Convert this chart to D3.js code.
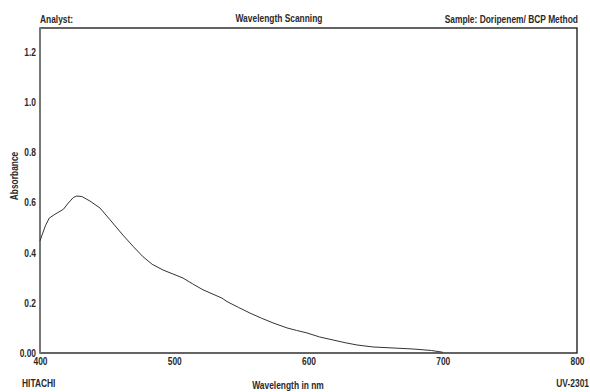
<!DOCTYPE html>
<html>
<head>
<meta charset="utf-8">
<script src="https://cdn.jsdelivr.net/npm/d3@7"></script>
<style>
  body { margin: 0; background: #fff; }
  text { font-family: "Liberation Sans", Arial, sans-serif; font-weight: bold; fill: #2a2a2a; }
</style>
</head>
<body>
<div class="C"></div>
<script>
// spectrum
var wavelength = [400, 401.3, 404, 406.9, 411.1, 417.4, 421.1, 424.8, 427.4, 431.2, 437.2, 444.7, 452.2, 461.8, 469.4, 476.7, 483.5, 491.6, 506.5, 513.6, 521.4, 535.5, 539.3, 547.8, 556.5, 564.9, 573.6, 584, 591.1, 598.9, 608.2, 618.2, 627.3, 636.1, 648.1, 663, 677.8, 691.6, 700];
var absorbance = [0.447, 0.467, 0.507, 0.538, 0.553, 0.573, 0.598, 0.62, 0.626, 0.624, 0.606, 0.578, 0.531, 0.47, 0.425, 0.384, 0.354, 0.331, 0.299, 0.276, 0.252, 0.219, 0.205, 0.182, 0.159, 0.139, 0.12, 0.1, 0.09, 0.08, 0.064, 0.052, 0.041, 0.032, 0.024, 0.02, 0.016, 0.01, 0.003];
var xTicks = [400, 500, 600, 700, 800];
var yTicks = [0, 0.2, 0.4, 0.6, 0.8, 1.0, 1.2];

var W = 590, H = 392;
var pL = 40, pR = 577, pT = 28, pB = 353;

var svg = d3.select('.C').append('svg').attr('width', W).attr('height', H);

var x = d3.scaleLinear().domain([400, 800]).range([pL, pR]);
var y = d3.scaleLinear().domain([0, 1.296]).range([pB, pT]);

// header
svg.append('text').text('Analyst:').attr('x', 40).attr('y', 23);
svg.append('text').text('Wavelength Scanning').attr('x', 279).attr('y', 22).attr('text-anchor', 'middle');
svg.append('text').text('Sample: Doripenem/ BCP Method').attr('x', 578).attr('y', 23).attr('text-anchor', 'end');

// frame
svg.append('rect').attr('x', pL).attr('y', pT).attr('width', pR - pL).attr('height', pB - pT)
    .style('fill', 'none').style('stroke', '#111').style('stroke-width', 1.3);
svg.append('line').attr('x1', pL).attr('x2', pL).attr('y1', pT).attr('y2', pB)
    .style('stroke', '#777').style('stroke-width', 2);

// y axis labels
var yAxis = d3.axisLeft(y).tickValues(yTicks).tickSize(0).tickPadding(4)
    .tickFormat(function (d) { return d === 0 ? '0.00' : d3.format('.1f')(d); });
svg.append('g').attr('transform', 'translate(' + pL + ',0)').call(yAxis)
    .call(function (g) { g.select('.domain').remove(); });

// x axis labels
var xAxis = d3.axisBottom(x).tickValues(xTicks).tickSize(0).tickPadding(5).tickFormat(d3.format('d'));
svg.append('g').attr('transform', 'translate(0,' + pB + ')').call(xAxis)
    .call(function (g) { g.select('.domain').remove(); });

svg.append('text').text('Absorbance').attr('transform', 'translate(18,176) rotate(-90)')
    .attr('text-anchor', 'middle');

// footer
svg.append('text').text('HITACHI').attr('x', 22).attr('y', 387);
svg.append('text').text('Wavelength in nm').attr('x', 288).attr('y', 389).attr('text-anchor', 'middle');
svg.append('text').text('UV-2301').attr('x', 589).attr('y', 387).attr('text-anchor', 'end');

// narrow printer font: squeeze every label
svg.selectAll('text')
    .attr('font-family', null).attr('font-size', null).attr('fill', null)
    .style('font-size', '10.5px')
    .each(function () {
        var w = this.getComputedTextLength();
        d3.select(this).attr('textLength', w * 0.8).attr('lengthAdjust', 'spacingAndGlyphs');
    });

// spectrum
var pts = wavelength.map(function (d, i) { return [d, absorbance[i]]; });
var line = d3.line().x(function (d) { return x(d[0]); }).y(function (d) { return y(d[1]); });
svg.append('path').datum(pts).attr('d', line)
    .style('fill', 'none').style('stroke', '#333').style('stroke-width', 1);
</script>
</body>
</html>
